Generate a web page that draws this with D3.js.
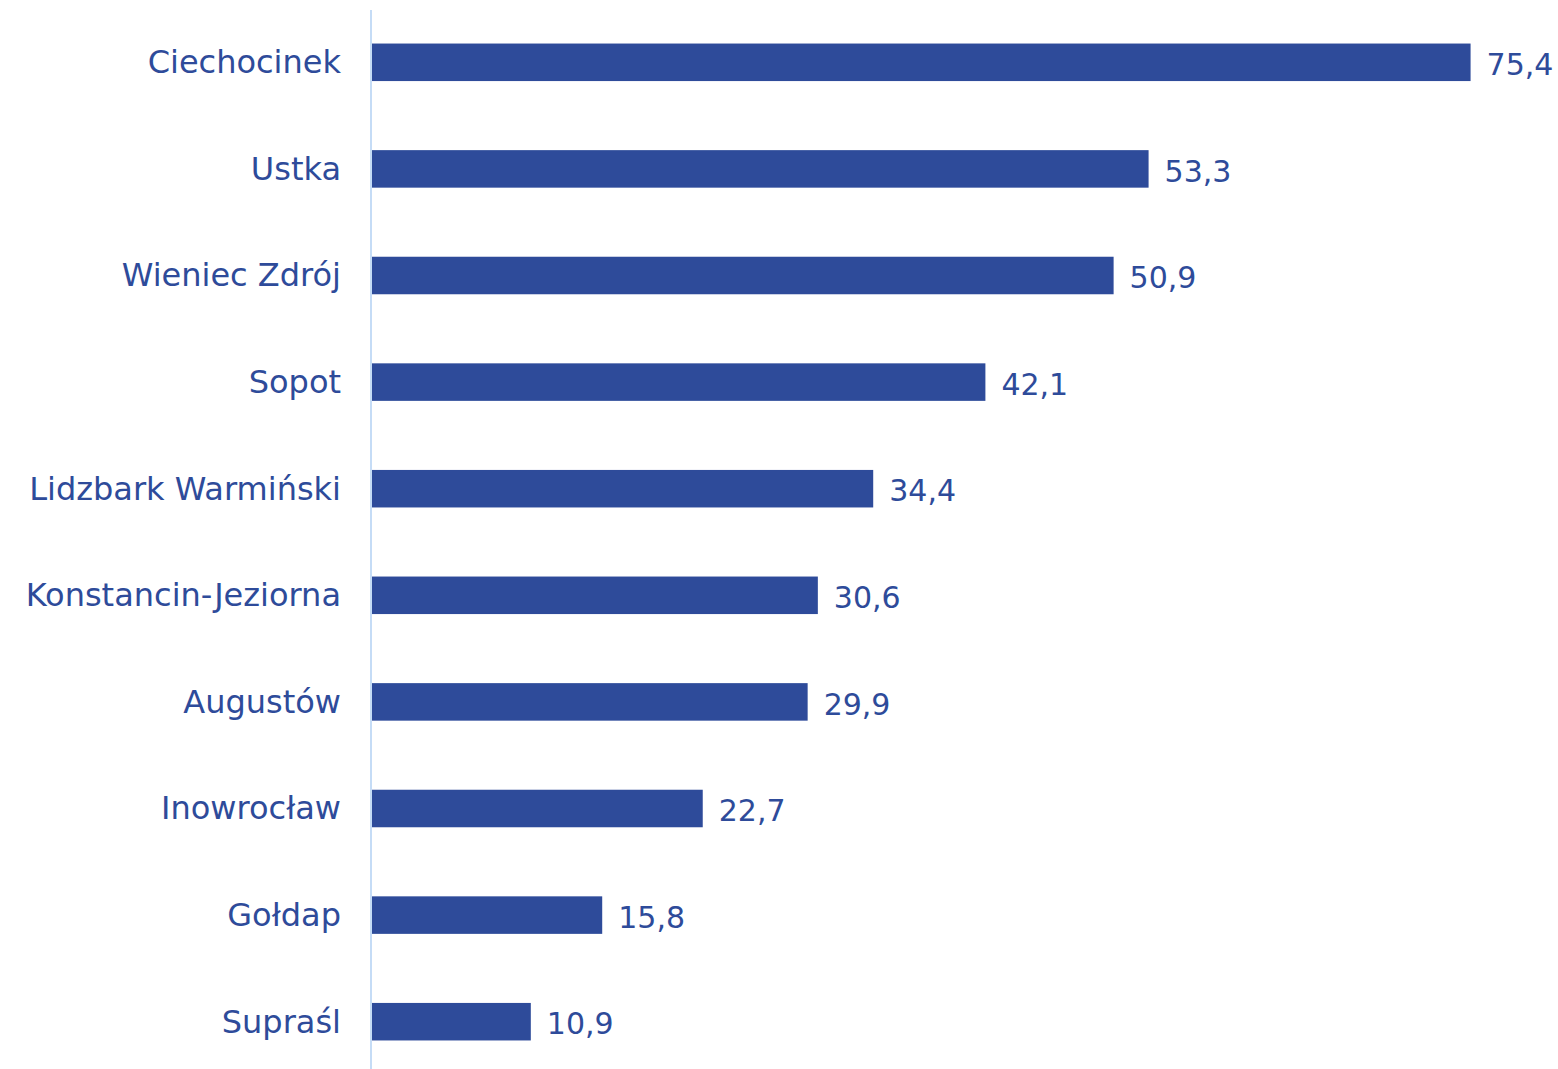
<!DOCTYPE html>
<html>
<head>
<meta charset="utf-8">
<script src="https://cdn.jsdelivr.net/npm/d3@7"></script>
<style>
  html, body { margin: 0; padding: 0; background: #fff; }
  svg { display: block; }
  text { font-family: "DejaVu Sans", sans-serif; fill: #2e4b9a; }
</style>
</head>
<body>
<svg id="chart" width="1558" height="1069"></svg>
<script>
const categories = ["Ciechocinek","Ustka","Wieniec Zdrój","Sopot","Lidzbark Warmiński","Konstancin-Jeziorna","Augustów","Inowrocław","Gołdap","Supraśl"];
const values = [75.4, 53.3, 50.9, 42.1, 34.4, 30.6, 29.9, 22.7, 15.8, 10.9];
const valueLabels = ["75,4","53,3","50,9","42,1","34,4","30,6","29,9","22,7","15,8","10,9"];

const svg = d3.select("#chart");
const barColor = "#2e4b9a";
const axisColor = "#c5dcf6";

const x = d3.scaleLinear().domain([0, 80]).range([372, 1537.6]);
const y = d3.scaleBand().domain(categories).range([9, 1075]).paddingInner(0.648).paddingOuter(0.324);

const data = categories.map((c, i) => ({c, v: values[i], l: valueLabels[i]}));

svg.selectAll("rect.bar").data(data).enter().append("rect")
  .attr("class", "bar")
  .attr("x", x(0))
  .attr("y", d => y(d.c))
  .attr("width", d => x(d.v) - x(0))
  .attr("height", y.bandwidth())
  .attr("fill", barColor);

svg.append("line")
  .attr("x1", 371).attr("x2", 371)
  .attr("y1", 10).attr("y2", 1069)
  .attr("stroke", axisColor).attr("stroke-width", 2);

svg.selectAll("text.cat").data(data).enter().append("text")
  .attr("class", "cat")
  .attr("x", 341)
  .attr("y", d => y(d.c) + y.bandwidth() / 2)
  .attr("dy", "0.34em")
  .attr("text-anchor", "end")
  .attr("font-size", 32)
  .text(d => d.c);

svg.selectAll("text.val").data(data).enter().append("text")
  .attr("class", "val")
  .attr("x", d => x(d.v) + 16)
  .attr("y", d => y(d.c) + y.bandwidth() / 2)
  .attr("dy", "0.42em")
  .attr("font-size", 30)
  .text(d => d.l);
</script>
</body>
</html>
